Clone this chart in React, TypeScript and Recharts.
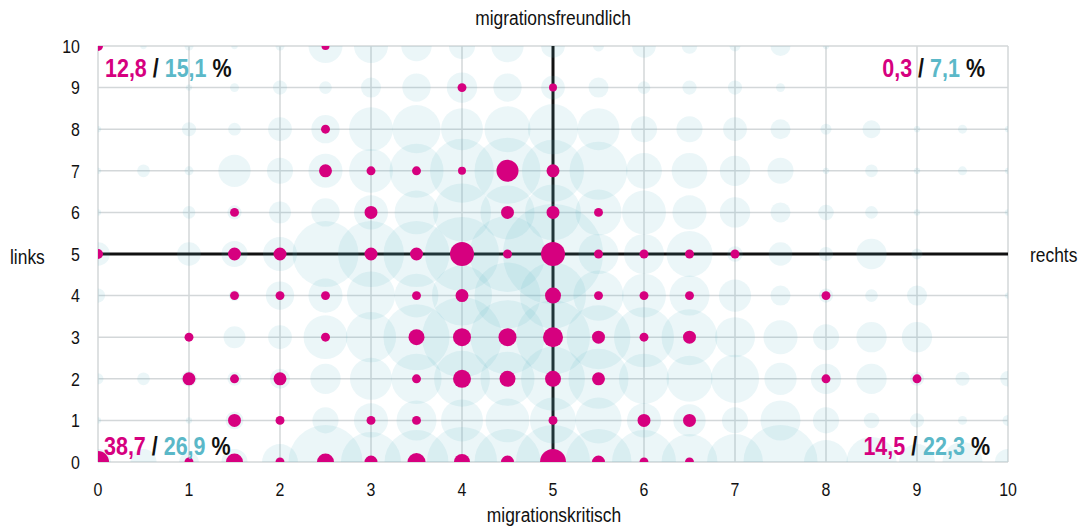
import React from "react";
import {
  ScatterChart,
  Scatter,
  XAxis,
  YAxis,
  ZAxis,
  CartesianGrid,
  ReferenceLine,
} from "recharts";

// x positions (0 … 10 in steps of 0.5)
const xValues = [0, 0.5, 1, 1.5, 2, 2.5, 3, 3.5, 4, 4.5, 5, 5.5, 6, 6.5, 7, 7.5, 8, 8.5, 9, 9.5, 10];
const yValues = [10, 9, 8, 7, 6, 5, 4, 3, 2, 1, 0];
const tickValues = [0, 1, 2, 3, 4, 5, 6, 7, 8, 9, 10];

// light blue bubbles (second distribution), one row per y value, one value per x position
const blueY10 = [0, 1, 2, 1, 2, 29, 29, 23, 17, 26, 14, 3, 14, 6, 3, 10, 1, 0, 0, 0, 0];
const blueY9 = [0, 0, 1, 2, 5, 4, 10, 20, 23, 20, 14, 10, 4, 5, 5, 2, 0, 0, 0, 0, 0];
const blueY8 = [1, 0, 5, 4, 14, 20, 48, 58, 44, 53, 63, 44, 17, 17, 14, 10, 3, 8, 1, 2, 1];
const blueY7 = [1, 4, 2, 26, 17, 29, 48, 73, 102, 109, 96, 84, 32, 32, 23, 17, 1, 4, 1, 2, 1];
const blueY6 = [1, 0, 4, 5, 12, 20, 29, 48, 84, 73, 78, 53, 48, 29, 23, 10, 6, 4, 1, 0, 1];
const blueY5 = [14, 0, 14, 17, 29, 109, 109, 109, 137, 144, 250, 40, 40, 53, 6, 14, 5, 23, 3, 0, 0];
const blueY4 = [5, 0, 0, 3, 20, 29, 58, 48, 90, 109, 109, 63, 48, 40, 26, 10, 5, 4, 10, 0, 1];
const blueY3 = [0, 0, 0, 12, 14, 48, 63, 109, 160, 137, 137, 102, 90, 78, 40, 29, 17, 23, 23, 0, 0];
const blueY2 = [3, 4, 6, 5, 10, 23, 44, 63, 78, 73, 102, 90, 63, 53, 58, 26, 23, 23, 5, 5, 6];
const blueY1 = [1, 0, 1, 8, 1, 17, 29, 40, 44, 48, 53, 53, 29, 26, 17, 40, 17, 6, 5, 2, 3];
const blueY0 = [17, 17, 10, 17, 32, 137, 90, 102, 123, 109, 137, 109, 102, 78, 78, 137, 48, 63, 32, 40, 17];

// magenta dots (first distribution)
const pinkY10 = [2.5, 0, 0, 0, 0, 1.6, 0, 0, 0, 0, 0, 0, 0, 0, 0, 0, 0, 0, 0, 0, 0];
const pinkY9 = [0, 0, 0, 0, 0, 0, 0, 0, 2.0, 0, 1.6, 0, 0, 0, 0, 0, 0, 0, 0, 0, 0];
const pinkY8 = [0, 0, 0, 0, 0, 2.0, 0, 0, 0, 0, 0, 0, 0, 0, 0, 0, 0, 0, 0, 0, 0];
const pinkY7 = [0, 0, 0, 0, 0, 4.2, 2.0, 2.0, 1.6, 12.1, 4.2, 0, 0, 0, 0, 0, 0, 0, 0, 0, 0];
const pinkY6 = [0, 0, 0, 2.0, 0, 0, 4.2, 0, 0, 4.2, 4.2, 2.0, 0, 0, 0, 0, 0, 0, 0, 0, 0];
const pinkY5 = [2.5, 0, 0, 4.2, 4.2, 0, 4.2, 4.2, 14.4, 2.0, 14.4, 2.0, 2.0, 2.0, 2.0, 0, 0, 0, 0, 0, 0];
const pinkY4 = [0, 0, 0, 2.0, 2.0, 2.0, 0, 2.0, 4.2, 0, 6.4, 2.0, 2.0, 2.0, 0, 0, 2.0, 0, 0, 0, 0];
const pinkY3 = [0, 0, 2.0, 0, 0, 2.0, 0, 6.4, 8.1, 8.1, 10, 4.2, 2.0, 4.2, 0, 0, 0, 0, 0, 0, 0];
const pinkY2 = [0, 0, 4.2, 2.0, 4.2, 0, 0, 2.0, 8.1, 6.4, 6.4, 4.2, 0, 0, 0, 0, 2.0, 0, 2.0, 0, 0];
const pinkY1 = [0, 0, 0, 4.2, 2.0, 0, 2.0, 2.0, 0, 0, 2.0, 0, 4.2, 4.2, 0, 0, 0, 0, 0, 0, 0];
const pinkY0 = [12.1, 0, 2.0, 7.2, 2.0, 7.2, 4.2, 8.1, 6.4, 4.2, 16.9, 4.2, 2.0, 2.0, 0, 0, 0, 0, 0, 0, 0];

// quadrant shares: [magenta, blue]
const shareTopLeft = ["12,8", "15,1"];
const shareTopRight = ["0,3", "7,1"];
const shareBottomLeft = ["38,7", "26,9"];
const shareBottomRight = ["14,5", "22,3"];

const axisTop = "migrationsfreundlich";
const axisBottom = "migrationskritisch";
const axisLeft = "links";
const axisRight = "rechts";

const blueRows = [blueY10, blueY9, blueY8, blueY7, blueY6, blueY5, blueY4, blueY3, blueY2, blueY1, blueY0];
const pinkRows = [pinkY10, pinkY9, pinkY8, pinkY7, pinkY6, pinkY5, pinkY4, pinkY3, pinkY2, pinkY1, pinkY0];

function toPoints(rows: number[][]) {
  const out: { x: number; y: number; v: number }[] = [];
  rows.forEach((row, ri) => {
    row.forEach((v, ci) => {
      if (v > 0) out.push({ x: xValues[ci], y: yValues[ri], v });
    });
  });
  return out;
}

const blueData = toPoints(blueRows);
const pinkData = toPoints(pinkRows);

const PINK = "#d6007f";
const BLUE = "#5bb8c8";
const FONT = "'Liberation Sans', Arial, sans-serif";
const SX = 0.84; // horizontal squeeze to imitate a narrow typeface

function XTick(props: any) {
  const { x, y, payload } = props;
  return (
    <text
      transform={`translate(${x},${y}) scale(${SX},1)`}
      textAnchor="middle"
      dy="0.71em"
      fontSize={19}
      fontFamily={FONT}
      fill="#111"
    >
      {payload.value}
    </text>
  );
}

function YTick(props: any) {
  const { x, y, payload } = props;
  return (
    <text
      transform={`translate(${x},${y}) scale(${SX},1)`}
      textAnchor="end"
      dy="0.355em"
      fontSize={19}
      fontFamily={FONT}
      fill="#111"
    >
      {payload.value}
    </text>
  );
}

function Share({ x, y, anchor, vals }: { x: number; y: number; anchor: "start" | "end"; vals: string[] }) {
  return (
    <text
      transform={`translate(${x},${y}) scale(0.86,1)`}
      textAnchor={anchor}
      fontFamily={FONT}
      fontWeight="bold"
      fontSize={25}
    >
      <tspan fill={PINK}>{vals[0]}</tspan>
      <tspan fill="#111"> / </tspan>
      <tspan fill={BLUE}>{vals[1]}</tspan>
      <tspan fill="#111"> %</tspan>
    </text>
  );
}

function Title({ x, y, anchor, children }: { x: number; y: number; anchor: "start" | "middle" | "end"; children: React.ReactNode }) {
  return (
    <text
      transform={`translate(${x},${y}) scale(0.87,1)`}
      textAnchor={anchor}
      fontFamily={FONT}
      fontSize={20}
      fill="#111"
    >
      {children}
    </text>
  );
}

export default function App() {
  const W = 1070;
  const H = 524;
  return (
    <div style={{ position: "relative", width: W, height: H, fontFamily: FONT }}>
      <ScatterChart width={W} height={H} margin={{ top: 38, right: 70, bottom: 40, left: 50 }}>
        <CartesianGrid stroke="#d3d7d9" strokeWidth={1.5} />
        <XAxis
          type="number"
          dataKey="x"
          domain={[0, 10]}
          ticks={tickValues}
          allowDataOverflow
          axisLine={false}
          tickLine={false}
          tickSize={0}
          tickMargin={20}
          height={30}
          tick={<XTick />}
        />
        <YAxis
          type="number"
          dataKey="y"
          domain={[0, 10]}
          ticks={tickValues}
          allowDataOverflow
          axisLine={false}
          tickLine={false}
          tickSize={0}
          tickMargin={18}
          width={40}
          tick={<YTick />}
        />
        <ZAxis type="number" dataKey="v" domain={[0, 250]} range={[0, Math.PI * 2500]} />
        <ReferenceLine x={5} stroke="#111" strokeWidth={3} />
        <ReferenceLine y={5} stroke="#111" strokeWidth={3} />
        <Scatter data={blueData} fill={BLUE} fillOpacity={0.12} isAnimationActive={false} />
        <Scatter data={pinkData} fill={PINK} isAnimationActive={false} />
      </ScatterChart>
      <svg
        width={W}
        height={H}
        style={{ position: "absolute", left: 0, top: 0, pointerEvents: "none", overflow: "visible" }}
      >
        <Share x={97} y={69} anchor="start" vals={shareTopLeft} />
        <Share x={977} y={69} anchor="end" vals={shareTopRight} />
        <Share x={96} y={447} anchor="start" vals={shareBottomLeft} />
        <Share x={982} y={447} anchor="end" vals={shareBottomRight} />
        <Title x={545} y={17} anchor="middle">{axisTop}</Title>
        <Title x={546} y={514} anchor="middle">{axisBottom}</Title>
        <Title x={2} y={256} anchor="start">{axisLeft}</Title>
        <Title x={1022} y={254} anchor="start">{axisRight}</Title>
      </svg>
    </div>
  );
}
